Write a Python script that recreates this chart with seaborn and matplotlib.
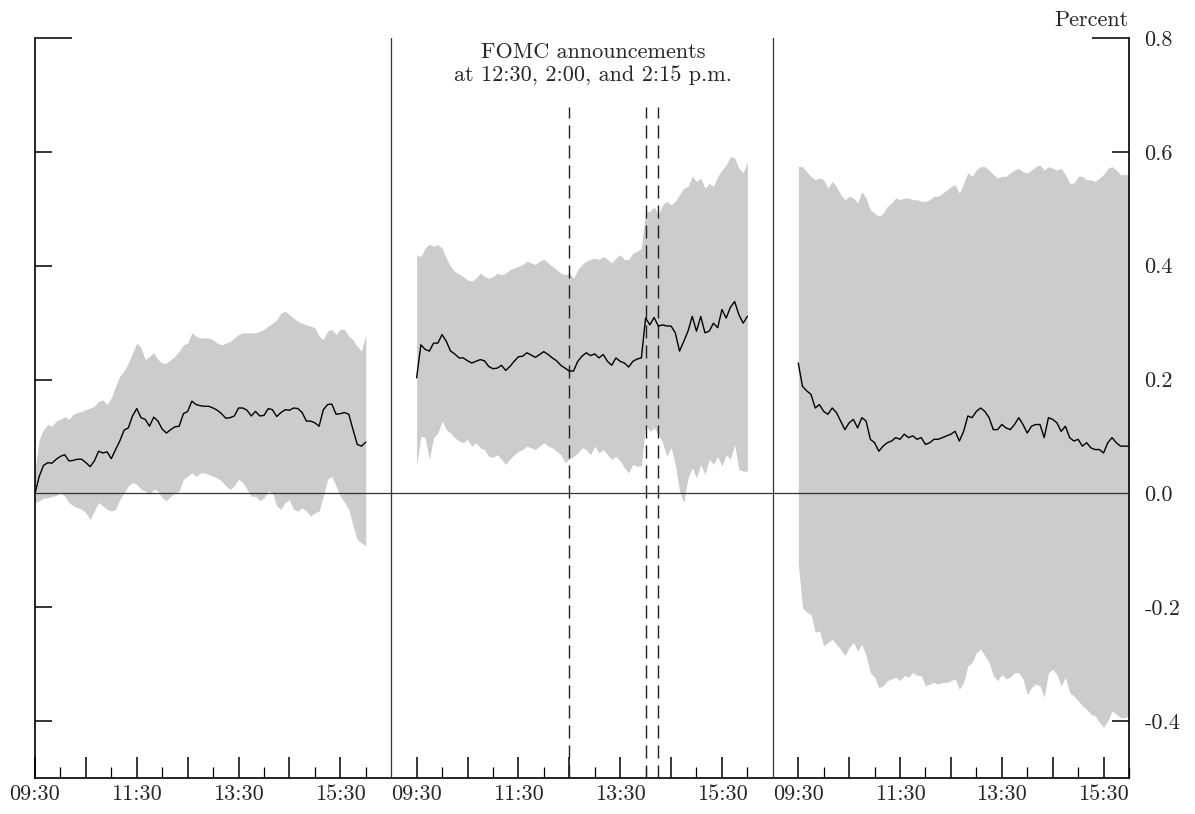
import numpy as np
import pandas as pd
import matplotlib
matplotlib.use("Agg")
import matplotlib.pyplot as plt
import seaborn as sns
from matplotlib.ticker import FixedLocator, FixedFormatter

# ---------------- data (percent), 5-minute steps from 09:30 to 16:00 ----------------
minutes = list(range(0, 391, 5))

d1_mid = [0.000, 0.030, 0.049, 0.054, 0.053, 0.060, 0.065, 0.068, 0.057, 0.058,
          0.060, 0.060, 0.054, 0.047, 0.057, 0.074, 0.071, 0.073, 0.061, 0.077,
          0.092, 0.111, 0.115, 0.136, 0.149, 0.133, 0.130, 0.118, 0.134, 0.127,
          0.113, 0.106, 0.112, 0.117, 0.118, 0.140, 0.144, 0.162, 0.156, 0.154,
          0.153, 0.153, 0.150, 0.146, 0.140, 0.132, 0.133, 0.136, 0.150, 0.150,
          0.146, 0.136, 0.144, 0.136, 0.137, 0.149, 0.147, 0.135, 0.142, 0.147,
          0.146, 0.150, 0.149, 0.142, 0.127, 0.127, 0.124, 0.118, 0.147, 0.156,
          0.157, 0.139, 0.140, 0.142, 0.139, 0.112, 0.086, 0.083, 0.090]
d1_hi = [0.042, 0.095, 0.112, 0.121, 0.118, 0.127, 0.130, 0.135, 0.130, 0.139,
         0.142, 0.144, 0.147, 0.150, 0.153, 0.162, 0.164, 0.156, 0.168, 0.188,
         0.206, 0.215, 0.229, 0.247, 0.264, 0.256, 0.235, 0.241, 0.247, 0.235,
         0.229, 0.229, 0.235, 0.241, 0.250, 0.261, 0.264, 0.282, 0.276, 0.273,
         0.273, 0.273, 0.270, 0.264, 0.261, 0.264, 0.267, 0.273, 0.279, 0.282,
         0.282, 0.282, 0.282, 0.285, 0.288, 0.294, 0.299, 0.305, 0.317, 0.320,
         0.314, 0.308, 0.302, 0.299, 0.296, 0.294, 0.291, 0.276, 0.270, 0.285,
         0.288, 0.279, 0.288, 0.288, 0.276, 0.270, 0.258, 0.250, 0.279]
d1_lo = [-0.016, -0.013, -0.008, -0.008, -0.005, -0.004, 0.001, -0.005, -0.016, -0.022,
         -0.025, -0.028, -0.034, -0.046, -0.031, -0.016, -0.022, -0.028, -0.031, -0.028,
         -0.011, 0.001, 0.013, 0.019, 0.016, 0.007, 0.004, -0.002, 0.007, 0.004,
         -0.008, -0.013, -0.005, 0.001, 0.004, 0.025, 0.030, 0.036, 0.030, 0.036,
         0.036, 0.033, 0.030, 0.027, 0.022, 0.013, 0.007, 0.013, 0.025, 0.019,
         0.007, -0.005, -0.005, -0.013, -0.008, 0.004, 0.001, -0.022, -0.028, -0.016,
         -0.011, -0.028, -0.031, -0.025, -0.031, -0.040, -0.034, -0.031, -0.005, 0.025,
         0.030, 0.013, -0.005, -0.016, -0.028, -0.057, -0.081, -0.087, -0.092]

d2_mid = [0.203, 0.261, 0.253, 0.250, 0.264, 0.264, 0.279, 0.267, 0.250, 0.245,
          0.238, 0.238, 0.233, 0.229, 0.232, 0.235, 0.233, 0.223, 0.219, 0.220,
          0.225, 0.216, 0.223, 0.232, 0.240, 0.241, 0.247, 0.243, 0.239, 0.244,
          0.249, 0.244, 0.238, 0.233, 0.225, 0.220, 0.215, 0.215, 0.232, 0.241,
          0.247, 0.242, 0.245, 0.238, 0.244, 0.232, 0.225, 0.238, 0.232, 0.229,
          0.222, 0.232, 0.236, 0.238, 0.308, 0.296, 0.309, 0.294, 0.296, 0.294,
          0.294, 0.282, 0.250, 0.267, 0.285, 0.311, 0.285, 0.311, 0.282, 0.285,
          0.299, 0.291, 0.323, 0.308, 0.327, 0.337, 0.314, 0.299, 0.311]
d2_hi = [0.419, 0.416, 0.431, 0.438, 0.434, 0.437, 0.431, 0.413, 0.399, 0.390,
         0.385, 0.381, 0.375, 0.373, 0.378, 0.387, 0.381, 0.378, 0.381, 0.387,
         0.384, 0.387, 0.393, 0.396, 0.399, 0.402, 0.408, 0.405, 0.402, 0.408,
         0.411, 0.405, 0.399, 0.393, 0.387, 0.384, 0.387, 0.378, 0.393, 0.402,
         0.408, 0.411, 0.413, 0.411, 0.416, 0.411, 0.405, 0.413, 0.419, 0.411,
         0.411, 0.422, 0.425, 0.431, 0.495, 0.495, 0.504, 0.489, 0.507, 0.513,
         0.507, 0.513, 0.525, 0.536, 0.539, 0.557, 0.548, 0.554, 0.536, 0.545,
         0.539, 0.557, 0.568, 0.577, 0.592, 0.589, 0.571, 0.563, 0.583]
d2_lo = [0.048, 0.101, 0.098, 0.060, 0.098, 0.106, 0.127, 0.112, 0.106, 0.098,
         0.092, 0.089, 0.095, 0.083, 0.089, 0.080, 0.077, 0.065, 0.063, 0.068,
         0.060, 0.051, 0.060, 0.068, 0.074, 0.077, 0.083, 0.080, 0.077, 0.083,
         0.089, 0.083, 0.080, 0.074, 0.068, 0.054, 0.060, 0.065, 0.071, 0.080,
         0.077, 0.068, 0.083, 0.071, 0.077, 0.068, 0.060, 0.065, 0.057, 0.045,
         0.036, 0.051, 0.048, 0.048, 0.121, 0.109, 0.115, 0.104, 0.089, 0.065,
         0.080, 0.051, 0.004, -0.016, 0.027, 0.045, 0.027, 0.051, 0.033, 0.060,
         0.051, 0.065, 0.048, 0.068, 0.060, 0.086, 0.042, 0.039, 0.039]

d3_mid = [0.229, 0.188, 0.180, 0.174, 0.150, 0.156, 0.144, 0.139, 0.150, 0.142,
          0.127, 0.112, 0.124, 0.130, 0.115, 0.133, 0.127, 0.095, 0.089, 0.074,
          0.083, 0.089, 0.092, 0.098, 0.095, 0.104, 0.098, 0.101, 0.095, 0.098,
          0.086, 0.089, 0.095, 0.095, 0.098, 0.101, 0.104, 0.109, 0.092, 0.109,
          0.136, 0.133, 0.144, 0.150, 0.144, 0.133, 0.112, 0.112, 0.121, 0.115,
          0.112, 0.121, 0.133, 0.121, 0.106, 0.118, 0.121, 0.121, 0.098, 0.133,
          0.130, 0.124, 0.109, 0.118, 0.098, 0.092, 0.095, 0.083, 0.089, 0.080,
          0.077, 0.077, 0.071, 0.089, 0.098, 0.089, 0.083, 0.083, 0.083]
d3_hi = [0.574, 0.574, 0.565, 0.557, 0.551, 0.554, 0.551, 0.536, 0.548, 0.539,
         0.525, 0.516, 0.522, 0.519, 0.510, 0.530, 0.519, 0.498, 0.492, 0.487,
         0.492, 0.504, 0.510, 0.519, 0.516, 0.519, 0.519, 0.516, 0.516, 0.513,
         0.513, 0.516, 0.522, 0.522, 0.527, 0.533, 0.539, 0.542, 0.527, 0.545,
         0.563, 0.557, 0.568, 0.574, 0.574, 0.568, 0.560, 0.554, 0.557, 0.557,
         0.563, 0.568, 0.571, 0.565, 0.563, 0.568, 0.574, 0.577, 0.568, 0.574,
         0.571, 0.568, 0.571, 0.560, 0.545, 0.545, 0.557, 0.557, 0.551, 0.551,
         0.548, 0.554, 0.560, 0.571, 0.574, 0.568, 0.560, 0.560, 0.560]
d3_lo = [-0.122, -0.201, -0.209, -0.212, -0.244, -0.242, -0.268, -0.262, -0.256, -0.265,
         -0.274, -0.285, -0.271, -0.262, -0.277, -0.265, -0.285, -0.315, -0.323, -0.341,
         -0.338, -0.329, -0.326, -0.323, -0.329, -0.320, -0.323, -0.315, -0.320, -0.320,
         -0.338, -0.335, -0.332, -0.335, -0.332, -0.332, -0.329, -0.326, -0.344, -0.332,
         -0.303, -0.297, -0.280, -0.274, -0.285, -0.297, -0.320, -0.329, -0.318, -0.326,
         -0.323, -0.315, -0.315, -0.326, -0.353, -0.341, -0.335, -0.338, -0.358, -0.315,
         -0.309, -0.318, -0.338, -0.323, -0.350, -0.356, -0.364, -0.373, -0.379, -0.388,
         -0.391, -0.402, -0.411, -0.399, -0.382, -0.388, -0.394, -0.394, -0.391]

tick_labels = ["09:30", "11:30", "13:30", "15:30"]
fomc_times = ["12:30", "14:00", "14:15"]
y_ticks = [-0.4, -0.2, 0.0, 0.2, 0.4, 0.6]
y_top = 0.8

# ---------------- layout helpers ----------------
DAY_LEN = 390      # minutes 09:30-16:00
GAP = 60           # blank space between days
offsets = [0, DAY_LEN + GAP, 2 * (DAY_LEN + GAP)]

def to_min(t):
    h, m = t.split(":")
    return (int(h) - 9) * 60 + int(m) - 30

frames = []
for i, (mid, hi, lo) in enumerate([(d1_mid, d1_hi, d1_lo),
                                   (d2_mid, d2_hi, d2_lo),
                                   (d3_mid, d3_hi, d3_lo)]):
    frames.append(pd.DataFrame({"x": np.array(minutes) + offsets[i],
                                "mid": mid, "hi": hi, "lo": lo, "day": i}))
df = pd.concat(frames, ignore_index=True)

# ---------------- style ----------------
sns.set_theme(style="white")
plt.rcParams["font.family"] = ["cmr10", "DejaVu Serif"]
plt.rcParams["axes.unicode_minus"] = False
plt.rcParams["axes.formatter.use_mathtext"] = True

fig = plt.figure(figsize=(11.95, 8.14), dpi=100)
ax = fig.add_axes([35 / 1195, 1 - 778 / 814, 1094 / 1195, 740 / 814])

for i, g in df.groupby("day"):
    ax.fill_between(g["x"], g["lo"], g["hi"], color="#cccccc", lw=0, zorder=1)

sns.lineplot(data=df, x="x", y="mid", units="day", estimator=None,
             color="black", linewidth=1.0, ax=ax, zorder=4)

# separators between days
for i in range(1, 3):
    ax.axvline(offsets[i] - GAP / 2, color="#333333", lw=0.9, zorder=3)
# zero line
ax.axhline(0, color="#333333", lw=0.9, zorder=3)
# FOMC announcement times
for t in fomc_times:
    ax.vlines(offsets[1] + to_min(t), -0.5, 0.679, colors="#222222", lw=1.0,
              linestyles=(0, (9.4, 5.0)), zorder=3)

ax.set_xlim(0, offsets[2] + DAY_LEN)
ax.set_ylim(-0.5, 0.8)
ax.set_xlabel("")
ax.set_ylabel("")

# x ticks
major = [o + m for o in offsets for m in range(0, DAY_LEN - 29, 60)]
lab_min = [to_min(t) for t in tick_labels]
major_lab = [tick_labels[lab_min.index(m)] if m in lab_min else ""
             for o in offsets for m in range(0, DAY_LEN - 29, 60)]
minor = [o + m for o in offsets for m in range(30, DAY_LEN + 1, 60)]
ax.xaxis.set_major_locator(FixedLocator(major))
ax.xaxis.set_major_formatter(FixedFormatter(major_lab))
ax.xaxis.set_minor_locator(FixedLocator(minor))
ax.tick_params(axis="x", which="major", direction="in", length=15, width=1.1,
               color="black", labelsize=16, pad=5, bottom=True, top=False)
ax.tick_params(axis="x", which="minor", direction="in", length=8, width=0.9,
               color="black", bottom=True, top=False)

# y ticks (right labels)
ax.yaxis.set_major_locator(FixedLocator(y_ticks))
ax.yaxis.set_major_formatter(FixedFormatter([f"{v:.1f}" for v in y_ticks]))
ax.yaxis.set_minor_locator(FixedLocator([y_top]))
ax.yaxis.set_minor_formatter(FixedFormatter([f"{y_top:.1f}"]))
ax.tick_params(axis="y", which="major", direction="in", length=12.2, width=1.1,
               color="black", labelsize=16, pad=11, left=True, right=True,
               labelleft=False, labelright=True)
ax.tick_params(axis="y", which="minor", direction="in", length=26.6, width=1.1,
               color="black", labelsize=16, pad=11, left=True, right=True,
               labelleft=False, labelright=True)

for s in ["left", "right", "bottom"]:
    ax.spines[s].set_visible(True)
    ax.spines[s].set_color("black")
    ax.spines[s].set_linewidth(1.2)
ax.spines["top"].set_visible(False)
ax.grid(False)

ax.annotate("Percent", xy=(1, 1), xycoords="axes fraction", xytext=(0, 9),
            textcoords="offset points", ha="right", va="baseline", fontsize=16)
ax.text(offsets[1] + 208, 0.793, "FOMC announcements\nat 12:30, 2:00, and 2:15 p.m.",
        ha="center", va="top", fontsize=16, linespacing=1.3, multialignment="center")

fig.savefig("out.png", dpi=100)
